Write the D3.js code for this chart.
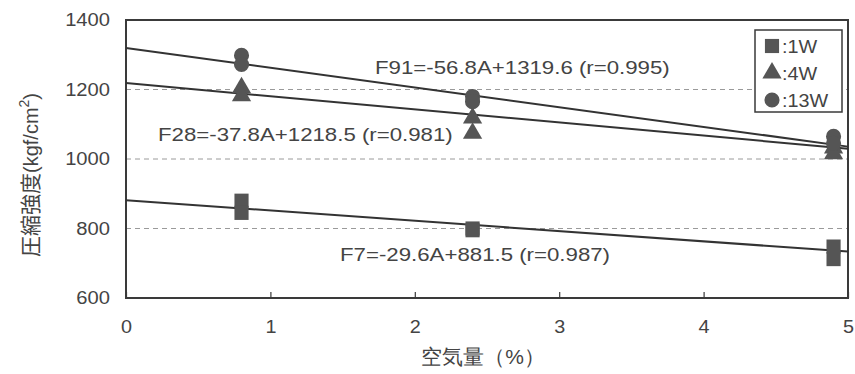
<!DOCTYPE html>
<html><head><meta charset="utf-8">
<script src="https://cdn.jsdelivr.net/npm/d3@7"></script>
<style>
body{margin:0;background:#fff;}
text{font-family:"Liberation Sans",Arial,sans-serif;fill:#444;}
</style></head>
<body>
<svg id="c" width="855" height="374"></svg>
<script>
// ---- data ----
const xTicks = [0,1,2,3,4,5];
const yTicks = [600,800,1000,1200,1400];
const series = ["1W","4W","13W"];
const airX = [0.8,0.8,2.4,2.4,4.9,4.9];
const w1  = [880,845,800,795,748,712];
const w4  = [1205,1182,1118,1074,1032,1015];
const w13 = [1298,1272,1180,1165,1065,1045];
const fits = [
  {name:"F91", a:-56.8, b:1319.6, label:"F91=-56.8A+1319.6 (r=0.995)"},
  {name:"F28", a:-37.8, b:1218.5, label:"F28=-37.8A+1218.5 (r=0.981)"},
  {name:"F7",  a:-29.6, b:881.5,  label:"F7=-29.6A+881.5 (r=0.987)"}
];
const yTitleCJK = "圧縮強度";
const yTitleUnit = "(kgf/cm";
const xTitle = "空気量（%）";

// ---- layout ----
const svg = d3.select("#c");
const L=126, R=848, T=20, B=298;
const x = d3.scaleLinear().domain([0,5]).range([L,R]);
const y = d3.scaleLinear().domain([600,1400]).range([B,T]);
const ink="#3a3a3a", mark="#555";
const stretch = (sel,f)=>sel.each(function(){const w=this.getComputedTextLength();d3.select(this).attr("textLength",w*f).attr("lengthAdjust","spacingAndGlyphs");});

// gridlines
svg.append("g").selectAll("line").data(yTicks.filter(v=>v>600&&v<1400)).join("line")
  .attr("x1",L).attr("x2",R).attr("y1",d=>y(d)).attr("y2",d=>y(d))
  .attr("stroke","#9a9a9a").attr("stroke-width",1).attr("stroke-dasharray","5,4");

// axes
const xa = svg.append("g").attr("transform",`translate(0,${B})`)
  .call(d3.axisBottom(x).tickValues(xTicks).tickSize(-6).tickPadding(22).tickFormat(d3.format("d")));
const ya = svg.append("g").attr("transform",`translate(${L},0)`)
  .call(d3.axisLeft(y).tickValues(yTicks).tickSize(0).tickPadding(16).tickFormat(d3.format("d")));
[xa,ya].forEach(a=>{a.select(".domain").remove();a.selectAll("line").attr("stroke",ink).attr("stroke-width",1.2);
  a.selectAll("text").attr("font-size",18).attr("fill","#4a4a4a").attr("font-family","Liberation Sans, Arial, sans-serif");});
stretch(xa.selectAll("text"),1.1);
stretch(ya.selectAll("text"),1.12);

// frame
svg.append("rect").attr("x",L).attr("y",T).attr("width",R-L).attr("height",B-T)
  .attr("fill","none").attr("stroke",ink).attr("stroke-width",2);

// regression lines
svg.append("g").selectAll("line").data(fits).join("line")
  .attr("x1",x(0)).attr("x2",x(5)).attr("y1",d=>y(d.b)).attr("y2",d=>y(d.b+d.a*5))
  .attr("stroke","#333").attr("stroke-width",2);

// markers
const sq = d3.symbol().type(d3.symbolSquare).size(200);
const tri = d3.symbol().type(d3.symbolTriangle).size(160);
const cir = d3.symbol().type(d3.symbolCircle).size(180);
const data = [{v:w1,s:sq},{v:w4,s:tri},{v:w13,s:cir}];
data.forEach(sr=>{
  svg.append("g").selectAll("path").data(sr.v).join("path")
    .attr("d",sr.s).attr("fill",mark)
    .attr("transform",(d,i)=>`translate(${x(airX[i])},${y(d)})`);
});

// annotations
const annPos = [[375,74],[158,141],[340,261]];
svg.append("g").selectAll("text").data(fits).join("text")
  .attr("x",(d,i)=>annPos[i][0]).attr("y",(d,i)=>annPos[i][1])
  .attr("font-size",19).attr("fill","#4a4a4a").text(d=>d.label)
  .call(stretch,1.17);

// legend
const lg = svg.append("g");
lg.append("rect").attr("x",755).attr("y",30).attr("width",87).attr("height",82)
  .attr("fill","#fff").attr("stroke",ink).attr("stroke-width",1.5);
const syms=[sq,tri,cir];
series.forEach((s,i)=>{
  const cy = 46+i*27;
  lg.append("path").attr("d",syms[i]).attr("fill",mark).attr("transform",`translate(772,${cy})`);
  lg.append("text").attr("x",782).attr("y",cy+7).attr("font-size",18).attr("fill","#4a4a4a").text(":"+s).call(stretch,1.1);
});

// axis titles
const yt = svg.append("text").attr("transform","translate(38,175) rotate(-90)")
  .attr("text-anchor","middle").attr("font-size",20).attr("fill","#4a4a4a");
yt.append("tspan").attr("font-family","Noto Sans CJK JP, sans-serif").attr("font-size",21).text(yTitleCJK);
yt.append("tspan").text(yTitleUnit);
yt.append("tspan").attr("dy",-9).attr("font-size",14).text("2");
yt.append("tspan").attr("dy",9).text(")");
svg.append("text").attr("x",483).attr("y",364).attr("text-anchor","middle")
  .attr("font-size",21).attr("fill","#4a4a4a").attr("font-family","Noto Sans CJK JP, sans-serif").text(xTitle);
</script>
</body></html>
